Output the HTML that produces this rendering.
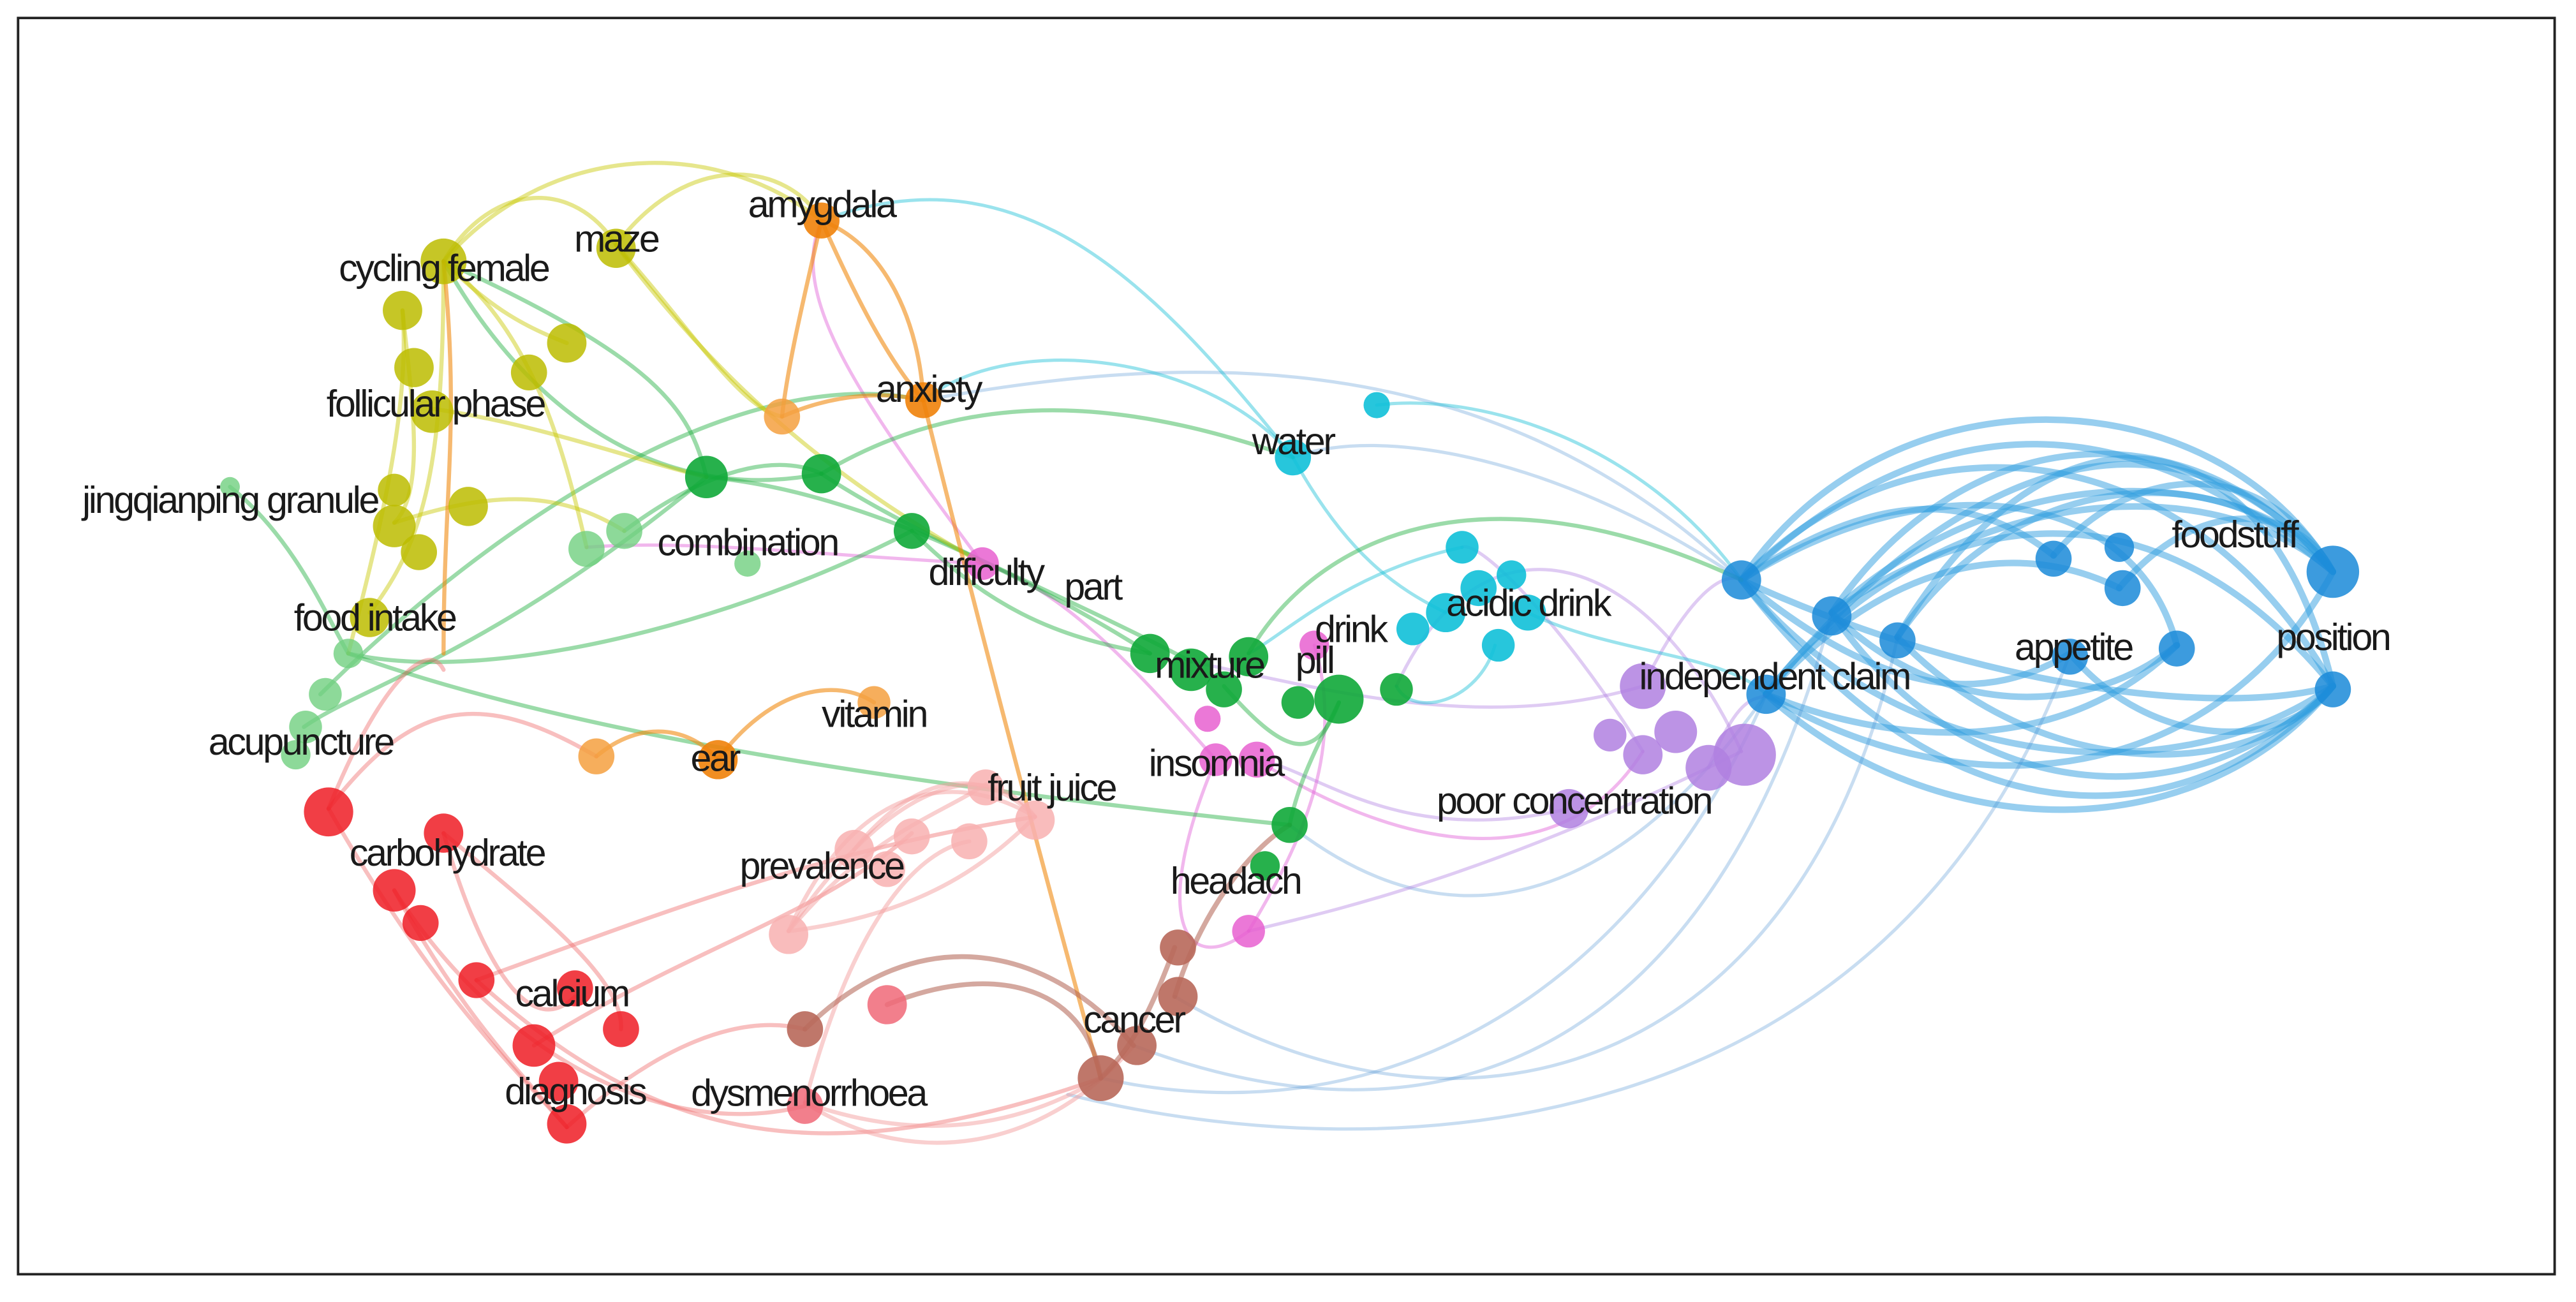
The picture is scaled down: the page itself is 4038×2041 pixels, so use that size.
<!DOCTYPE html>
<html><head><meta charset="utf-8"><style>
html,body{margin:0;padding:0;background:#fff;}
svg{display:block;}
text{font-family:"Liberation Sans Narrow","Liberation Sans",sans-serif;font-size:23px;letter-spacing:-1.3px;fill:#1a1a1a;}
</style></head><body>
<svg width="4038" height="2041" viewBox="0 0 1568 797" preserveAspectRatio="none" xmlns="http://www.w3.org/2000/svg">
<rect x="0" y="0" width="1568" height="797" fill="#fff"/>
<rect x="11" y="11" width="1544" height="769" fill="none" stroke="#222" stroke-width="1.5"/>
<g fill="none" stroke-linecap="round">
<g stroke="#2f9ee0" stroke-opacity="0.5" stroke-width="4">
<path d="M1060 355 C1150 220 1350 230 1420 350"/>
<path d="M1060 355 C1160 250 1330 260 1420 420"/>
<path d="M1075 425 C1170 300 1340 280 1420 350"/>
<path d="M1075 425 C1180 520 1340 520 1420 420"/>
<path d="M1115 375 C1200 250 1340 250 1420 350"/>
<path d="M1115 375 C1200 500 1340 500 1420 420"/>
<path d="M1155 390 C1230 280 1360 280 1420 350"/>
<path d="M1155 390 C1240 480 1370 480 1420 420"/>
<path d="M1060 355 C1150 470 1320 490 1420 420"/>
<path d="M1060 355 C1140 300 1200 300 1250 340"/>
<path d="M1075 425 C1150 340 1230 330 1290 360"/>
<path d="M1115 375 C1180 440 1270 440 1325 395"/>
<path d="M1060 355 C1150 430 1210 430 1260 400"/>
<path d="M1250 340 C1300 280 1380 280 1420 350"/>
<path d="M1260 400 C1310 460 1390 460 1420 420"/>
<path d="M1290 360 C1340 300 1400 310 1420 350"/>
<path d="M1075 425 C1200 270 1330 240 1420 350"/>
<path d="M1060 355 C1200 540 1350 500 1420 420"/>
<path d="M1155 390 C1250 230 1380 250 1420 420"/>
<path d="M1115 375 C1220 300 1330 310 1420 420"/>
<path d="M1075 425 C1160 460 1260 460 1325 395"/>
<path d="M1060 355 C1180 280 1300 300 1325 395"/>
<path d="M1060 355 C1180 240 1300 250 1420 350"/>
<path d="M1075 425 C1200 500 1350 480 1420 350"/>
<path d="M1115 375 C1230 270 1380 290 1420 350"/>
<path d="M1060 355 C1200 420 1350 440 1420 420"/>
</g>
<g stroke="#4a90d0" stroke-opacity="0.3" stroke-width="2">
<path d="M1075 425 C1000 600 850 700 670 660"/>
<path d="M1115 375 C1050 620 900 720 690 640"/>
<path d="M1155 390 C1100 650 900 720 715 610"/>
<path d="M1260 400 C1150 700 850 720 650 670"/>
<path d="M1060 355 C950 280 840 260 787 280"/>
<path d="M1060 355 C900 200 700 220 562 245"/>
<path d="M1075 425 C980 560 880 580 785 505"/>
</g>
<g stroke="#b07ee0" stroke-opacity="0.4" stroke-width="2">
<path d="M1000 420 C900 450 800 420 725 405"/>
<path d="M1060 460 C900 540 800 560 760 570"/>
<path d="M955 495 C850 520 800 470 765 465"/>
<path d="M1000 420 C1030 360 1050 350 1060 355"/>
<path d="M1040 470 C1060 420 1070 430 1075 425"/>
<path d="M1000 460 C950 380 900 330 890 335"/>
<path d="M1060 460 C1000 330 900 310 850 420"/>
</g>
<g stroke="#e060d8" stroke-opacity="0.45" stroke-width="2">
<path d="M598 345 C650 360 700 420 740 465"/>
<path d="M598 345 C500 340 420 330 357 335"/>
<path d="M740 465 C700 560 720 600 760 570"/>
<path d="M765 465 C850 520 950 540 1000 460"/>
<path d="M800 395 C820 460 790 520 760 570"/>
<path d="M598 345 C520 240 480 180 500 135"/>
</g>
<g stroke="#20c0d8" stroke-opacity="0.45" stroke-width="2">
<path d="M787 280 C700 170 620 90 500 135"/>
<path d="M787 280 C820 340 850 360 880 375"/>
<path d="M838 248 C900 240 1000 270 1060 355"/>
<path d="M890 335 C820 350 780 390 760 400"/>
<path d="M930 375 C980 400 1050 400 1075 425"/>
<path d="M910 395 C900 430 860 440 850 420"/>
<path d="M787 280 C740 220 620 200 562 245"/>
</g>
<g stroke="#22b040" stroke-opacity="0.45" stroke-width="2.5">
<path d="M270 160 C320 250 400 310 500 290"/>
<path d="M430 292 C520 300 620 350 700 400"/>
<path d="M500 290 C560 330 640 360 725 405"/>
<path d="M555 325 C600 370 640 390 700 400"/>
<path d="M380 325 C440 280 480 280 500 290"/>
<path d="M212 400 C300 420 450 380 555 325"/>
<path d="M140 298 C180 330 200 380 212 400"/>
<path d="M185 445 C220 420 300 400 430 292"/>
<path d="M760 400 C800 330 900 280 1060 355"/>
<path d="M815 430 C800 460 790 480 785 505"/>
<path d="M270 160 C400 220 420 250 430 292"/>
<path d="M212 400 C350 450 550 480 785 505"/>
<path d="M500 290 C600 230 700 250 787 280"/>
<path d="M195 425 C300 320 450 220 562 245"/>
<path d="M745 420 C780 460 800 470 815 430"/>
</g>
<g stroke="#c8c800" stroke-opacity="0.45" stroke-width="2.5">
<path d="M270 160 C300 110 350 110 375 150"/>
<path d="M270 160 C330 90 430 80 500 135"/>
<path d="M375 150 C420 90 480 100 500 135"/>
<path d="M245 190 C250 240 260 300 240 320"/>
<path d="M270 160 C320 200 340 260 357 335"/>
<path d="M262 250 C330 260 380 280 430 292"/>
<path d="M225 375 C260 330 270 280 270 160"/>
<path d="M375 150 C420 200 450 250 476 255"/>
<path d="M240 320 C300 300 340 300 380 325"/>
<path d="M270 160 C300 190 320 200 345 210"/>
<path d="M212 400 C230 330 250 250 245 190"/>
<path d="M375 150 C450 250 520 300 598 345"/>
</g>
<g stroke="#f08a10" stroke-opacity="0.6" stroke-width="2.5">
<path d="M500 135 C520 180 540 220 562 245"/>
<path d="M500 135 C490 180 480 220 476 255"/>
<path d="M500 135 C540 150 560 200 562 245"/>
<path d="M363 463 C390 440 420 445 437 465"/>
<path d="M437 465 C470 420 510 415 532 430"/>
<path d="M476 255 C510 240 540 240 562 245"/>
<path d="M562 245 C600 400 640 550 670 660"/>
<path d="M270 400 C270 300 280 260 270 160"/>
</g>
<g stroke="#f07070" stroke-opacity="0.45" stroke-width="2.5">
<path d="M200 495 C230 420 260 390 270 410"/>
<path d="M200 495 C260 600 300 640 345 690"/>
<path d="M270 510 C290 580 320 640 350 610"/>
<path d="M240 545 C280 620 320 660 345 690"/>
<path d="M290 600 C400 560 500 520 630 500"/>
<path d="M325 640 C420 580 500 560 555 510"/>
<path d="M345 690 C400 640 450 620 490 630"/>
<path d="M200 495 C250 430 290 420 363 463"/>
<path d="M290 600 C400 700 500 720 670 660"/>
<path d="M270 510 C330 560 380 600 378 630"/>
<path d="M240 545 C300 640 400 700 490 677"/>
</g>
<g stroke="#f4a0a0" stroke-opacity="0.5" stroke-width="2.5">
<path d="M480 570 C520 480 580 470 630 500"/>
<path d="M480 570 C530 510 570 500 600 480"/>
<path d="M520 520 C560 470 600 470 630 500"/>
<path d="M490 675 C520 560 560 520 590 515"/>
<path d="M480 570 C560 560 600 530 630 500"/>
<path d="M490 675 C560 700 620 690 670 660"/>
<path d="M490 675 C560 720 640 700 690 640"/>
<path d="M480 570 C540 480 600 460 630 500"/>
</g>
<g stroke="#b06050" stroke-opacity="0.55" stroke-width="3">
<path d="M490 630 C560 560 640 580 690 640"/>
<path d="M540 615 C600 590 660 600 670 660"/>
<path d="M715 580 C700 620 690 640 670 660"/>
<path d="M715 610 C730 560 760 520 785 505"/>
</g>
</g>
<g>
<g fill="#bcbc00" fill-opacity="0.85">
<circle cx="270" cy="160" r="14"/><circle cx="375" cy="152" r="12"/><circle cx="245" cy="190" r="12"/>
<circle cx="252" cy="225" r="12"/><circle cx="263" cy="252" r="13"/><circle cx="345" cy="210" r="12"/>
<circle cx="322" cy="228" r="11"/><circle cx="285" cy="310" r="12"/><circle cx="240" cy="322" r="13"/>
<circle cx="255" cy="338" r="11"/><circle cx="225" cy="378" r="12"/><circle cx="240" cy="300" r="10"/>
</g>
<g fill="#f0820a" fill-opacity="0.9">
<circle cx="500" cy="135" r="11"/><circle cx="562" cy="245" r="11"/><circle cx="437" cy="465" r="12"/>
</g>
<g fill="#f5a040" fill-opacity="0.85">
<circle cx="476" cy="255" r="11"/><circle cx="363" cy="463" r="11"/><circle cx="532" cy="430" r="10"/>
</g>
<g fill="#10a838" fill-opacity="0.9">
<circle cx="430" cy="292" r="13"/><circle cx="500" cy="290" r="12"/><circle cx="555" cy="325" r="11"/>
<circle cx="700" cy="400" r="12"/><circle cx="725" cy="410" r="13"/><circle cx="760" cy="402" r="12"/>
<circle cx="745" cy="422" r="11"/><circle cx="815" cy="428" r="15"/><circle cx="850" cy="422" r="10"/>
<circle cx="790" cy="430" r="10"/><circle cx="785" cy="505" r="11"/><circle cx="770" cy="530" r="9"/>
</g>
<g fill="#70d080" fill-opacity="0.8">
<circle cx="380" cy="325" r="11"/><circle cx="357" cy="336" r="11"/><circle cx="455" cy="345" r="8"/>
<circle cx="140" cy="298" r="6"/><circle cx="212" cy="400" r="9"/><circle cx="198" cy="425" r="10"/>
<circle cx="186" cy="445" r="10"/><circle cx="180" cy="462" r="9"/>
</g>
<g fill="#10c0d8" fill-opacity="0.9">
<circle cx="787" cy="280" r="11"/><circle cx="838" cy="248" r="8"/><circle cx="890" cy="335" r="10"/>
<circle cx="880" cy="375" r="12"/><circle cx="900" cy="360" r="11"/><circle cx="930" cy="375" r="11"/>
<circle cx="912" cy="395" r="10"/><circle cx="920" cy="352" r="9"/><circle cx="860" cy="385" r="10"/>
</g>
<g fill="#1a8ad8" fill-opacity="0.85">
<circle cx="1060" cy="355" r="12"/><circle cx="1115" cy="377" r="12"/><circle cx="1155" cy="392" r="11"/>
<circle cx="1075" cy="425" r="12"/><circle cx="1250" cy="342" r="11"/><circle cx="1292" cy="360" r="11"/>
<circle cx="1325" cy="397" r="11"/><circle cx="1260" cy="402" r="11"/><circle cx="1420" cy="350" r="16"/>
<circle cx="1420" cy="422" r="11"/><circle cx="1290" cy="335" r="9"/>
</g>
<g fill="#b080e0" fill-opacity="0.85">
<circle cx="1000" cy="420" r="14"/><circle cx="1020" cy="448" r="13"/><circle cx="1062" cy="462" r="19"/>
<circle cx="1000" cy="462" r="12"/><circle cx="955" cy="495" r="12"/><circle cx="1040" cy="470" r="14"/>
<circle cx="980" cy="450" r="10"/>
</g>
<g fill="#e860d0" fill-opacity="0.85">
<circle cx="598" cy="345" r="10"/><circle cx="740" cy="465" r="10"/><circle cx="765" cy="465" r="11"/>
<circle cx="760" cy="570" r="10"/><circle cx="800" cy="395" r="9"/><circle cx="735" cy="440" r="8"/>
</g>
<g fill="#ee1c24" fill-opacity="0.85">
<circle cx="200" cy="497" r="15"/><circle cx="270" cy="510" r="12"/><circle cx="240" cy="545" r="13"/>
<circle cx="256" cy="565" r="11"/><circle cx="290" cy="600" r="11"/><circle cx="325" cy="640" r="13"/>
<circle cx="350" cy="605" r="11"/><circle cx="378" cy="630" r="11"/><circle cx="345" cy="688" r="12"/>
<circle cx="340" cy="662" r="12"/>
</g>
<g fill="#f8b0b0" fill-opacity="0.85">
<circle cx="480" cy="572" r="12"/><circle cx="520" cy="520" r="12"/><circle cx="555" cy="512" r="11"/>
<circle cx="590" cy="515" r="11"/><circle cx="630" cy="502" r="12"/><circle cx="600" cy="482" r="11"/>
<circle cx="540" cy="532" r="11"/>
</g>
<g fill="#f06878" fill-opacity="0.85">
<circle cx="490" cy="677" r="11"/><circle cx="540" cy="615" r="12"/>
</g>
<g fill="#b8685a" fill-opacity="0.9">
<circle cx="490" cy="630" r="11"/><circle cx="670" cy="660" r="14"/><circle cx="692" cy="640" r="12"/>
<circle cx="717" cy="610" r="12"/><circle cx="717" cy="580" r="11"/>
</g>
</g>
<g text-anchor="middle">
<text x="270" y="172">cycling female</text>
<text x="375" y="154">maze</text>
<text x="500" y="133">amygdala</text>
<text x="265" y="255">follicular phase</text>
<text x="565" y="246">anxiety</text>
<text x="787" y="278">water</text>
<text x="140" y="314">jingqianping granule</text>
<text x="455" y="340">combination</text>
<text x="600" y="358">difficulty</text>
<text x="665" y="367">part</text>
<text x="228" y="386">food intake</text>
<text x="930" y="377">acidic drink</text>
<text x="822" y="393">drink</text>
<text x="736" y="415">mixture</text>
<text x="800" y="412">pill</text>
<text x="1360" y="335">foodstuff</text>
<text x="1420" y="398">position</text>
<text x="1262" y="404">appetite</text>
<text x="1080" y="422">independent claim</text>
<text x="183" y="462">acupuncture</text>
<text x="435" y="472">ear</text>
<text x="532" y="445">vitamin</text>
<text x="740" y="475">insomnia</text>
<text x="640" y="490">fruit juice</text>
<text x="958" y="498">poor concentration</text>
<text x="272" y="530">carbohydrate</text>
<text x="500" y="538">prevalence</text>
<text x="752" y="547">headach</text>
<text x="348" y="616">calcium</text>
<text x="690" y="632">cancer</text>
<text x="350" y="676">diagnosis</text>
<text x="492" y="677">dysmenorrhoea</text>
</g>
</svg>
</body></html>
